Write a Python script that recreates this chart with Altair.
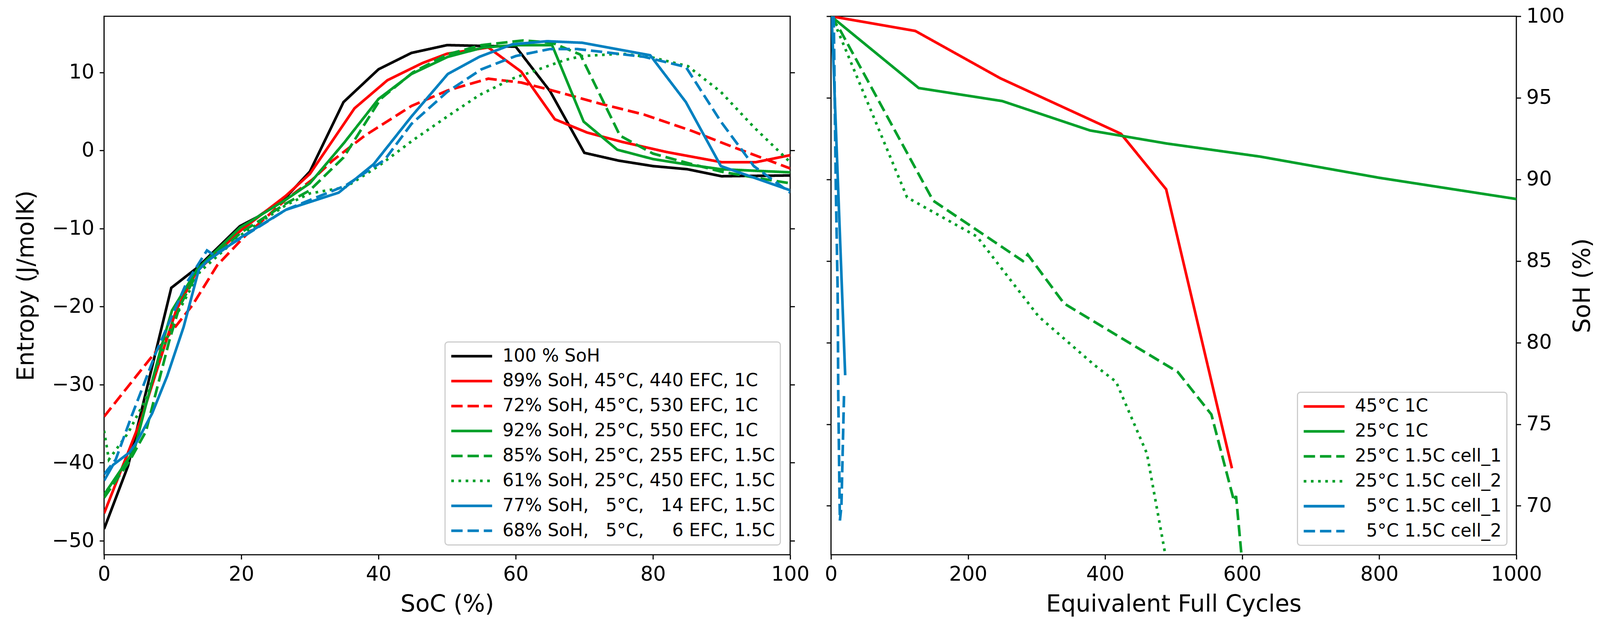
import altair as alt
import pandas as pd

NB = "\u00a0"
ZW = "\u200b"

# ---------------- Left panel: entropy vs SoC ----------------
left_names = [
    "100 % SoH",
    "89% SoH, 45°C, 440 EFC, 1C",
    "72% SoH, 45°C, 530 EFC, 1C",
    "92% SoH, 25°C, 550 EFC, 1C",
    "85% SoH, 25°C, 255 EFC, 1.5C",
    "61% SoH, 25°C, 450 EFC, 1.5C",
    "77% SoH," + NB * 3 + "5°C," + NB * 3 + "14 EFC, 1.5C",
    "68% SoH," + NB * 3 + "5°C," + NB * 5 + "6 EFC, 1.5C",
]

black_soc = [0, 3.5, 9.8, 13.6, 19.8, 22.4, 26.5, 30, 34.9, 40, 44.8, 50, 60, 65, 70, 75, 80, 85, 90, 100]
black_ent = [-48.5, -40.4, -17.6, -15.0, -9.7, -8.5, -6.0, -2.7, 6.2, 10.4, 12.5, 13.5, 13.3, 7.6, -0.3, -1.3, -2.0, -2.4, -3.3, -3.2]

red_soc = [0, 3.5, 5.5, 9.2, 10.5, 13.5, 20, 26.5, 30, 36.5, 41.3, 46.4, 50, 56, 60.8, 65.7, 70.4, 75.5, 82, 90, 95, 100]
red_ent = [-46.5, -38.7, -34.2, -24.0, -20.5, -15.5, -10.2, -5.8, -3.0, 5.4, 9.0, 11.2, 12.4, 13.2, 10.1, 4.0, 2.3, 1.1, -0.2, -1.5, -1.5, -0.6]

reddash_soc = [0, 7.7, 12.9, 16.5, 20.5, 26.5, 30.4, 33.3, 38, 44.8, 50.1, 56, 60.8, 65.3, 72.3, 78.7, 85.7, 91.5, 100]
reddash_ent = [-34.1, -25.6, -19.8, -14.7, -11.0, -6.3, -3.7, -1.3, 1.9, 5.7, 7.7, 9.2, 8.7, 7.7, 6.0, 4.6, 2.5, 0.5, -2.3]

green_soc = [0, 4.4, 6.1, 8.3, 9.9, 13.6, 19.8, 26.5, 30, 35, 40, 44.8, 50.1, 55.3, 60, 65.3, 69.9, 74.8, 80, 85, 89.9, 100]
green_ent = [-44.1, -38.4, -32.6, -25.3, -20.5, -15.2, -9.9, -6.3, -4.2, 1.0, 6.6, 9.8, 12.0, 13.2, 13.5, 13.5, 3.7, 0.1, -1.1, -1.8, -2.4, -2.8]

greendash_soc = [0, 3.7, 6.1, 9.5, 11, 14, 20, 26.5, 30, 34.9, 40.3, 45, 50, 55, 61.1, 65.3, 69.4, 75.2, 80, 85, 89.9, 95, 100]
greendash_ent = [-44.5, -39.8, -36.0, -24.4, -20.0, -15.0, -10.5, -6.8, -5.1, -0.9, 6.6, 10.0, 12.3, 13.5, 14.1, 13.8, 12.3, 1.9, -0.4, -1.6, -2.7, -3.5, -4.2]

greendot_soc = [0, 0.7, 3.5, 6, 10, 14, 20, 26.5, 30, 35.2, 40, 45, 50.1, 54.7, 59.5, 67.2, 69.7, 75.5, 80, 85.1, 89.9, 94.7, 100]
greendot_ent = [-35.9, -39.6, -36.2, -32.0, -22.0, -15.5, -10.8, -7.0, -5.5, -4.7, -2.0, 1.3, 4.4, 7.1, 9.2, 11.6, 12.1, 12.4, 11.9, 10.8, 7.5, 3.0, -1.5]

blue_soc = [0, 1.3, 3.7, 4.8, 7.0, 9.2, 11.6, 13.8, 15, 19.8, 26.5, 34.2, 39.3, 44.8, 50.1, 54.7, 59.5, 64.6, 69.7, 79.6, 84.8, 89.9, 100]
blue_ent = [-42.3, -40.3, -38.7, -37.3, -33.7, -28.9, -22.6, -15.3, -14.2, -11.2, -7.6, -5.4, -1.75, 4.35, 9.8, 12.0, 13.6, 14.0, 13.8, 12.2, 6.2, -2.0, -5.1]

bluedash_soc = [0, 1.7, 3.9, 7.7, 10, 12, 15, 16, 20, 26.5, 35.2, 40.9, 44.8, 50, 55, 60, 65, 69, 78.7, 84.8, 89.9, 94.7, 100]
bluedash_ent = [-41.5, -39.6, -34.3, -25.6, -21.0, -17.0, -12.8, -13.4, -11.2, -7.6, -4.5, -1.2, 3.4, 7.5, 10.4, 12.1, 13.0, 13.0, 12.0, 10.7, 3.7, -2.0, -5.4]

# ---------------- Right panel: SoH vs EFC ----------------
right_names = [
    "45°C 1C",
    "25°C 1C",
    "25°C 1.5C cell_1",
    "25°C 1.5C cell_2",
    ZW + NB * 2 + "5°C 1.5C cell_1",
    ZW + NB * 2 + "5°C 1.5C cell_2",
]

red45_efc = [0, 123, 247, 423, 489, 585]
red45_soh = [100, 99.1, 96.2, 92.8, 89.4, 72.3]

green25_efc = [0, 128, 250, 378, 490, 626, 800, 1000]
green25_soh = [100, 95.6, 94.8, 93.0, 92.2, 91.4, 90.1, 88.8]

c1_efc = [0, 6, 14, 149, 280, 287, 340, 506, 555, 588, 591, 600]
c1_soh = [100, 99.6, 99.1, 88.7, 85.0, 85.4, 82.4, 78.2, 75.6, 70.3, 70.6, 66.5]

c2_efc = [0, 8, 12, 111, 145, 213, 303, 385, 416, 461, 487]
c2_soh = [100, 99.3, 98.9, 88.9, 88.1, 86.5, 81.6, 78.6, 77.6, 73.2, 67.2]

b1_efc = [1, 20.7]
b1_soh = [100, 78.0]

b2_efc = [4, 7, 9.7, 10.6, 12.5, 13, 15.2, 19]
b2_soh = [100, 89.6, 83.2, 76.8, 70.4, 69.1, 70.0, 76.8]

GREEN = "#00a02a"
BLUE = "#0080c0"
RED = "#ff0000"
SOLID = [1, 0]
DASH = [30, 13]
DOT = [7, 12]

left_colors = ["black", RED, RED, GREEN, GREEN, GREEN, BLUE, BLUE]
left_dashes = [SOLID, SOLID, DASH, SOLID, DASH, DOT, SOLID, DASH]
right_colors = [RED, GREEN, GREEN, GREEN, BLUE, BLUE]
right_dashes = [SOLID, SOLID, DASH, DOT, SOLID, DASH]


def make_df(names, xs_list, ys_list, xname, yname):
    rows = []
    for n, xs, ys in zip(names, xs_list, ys_list):
        for i, (x, y) in enumerate(zip(xs, ys)):
            rows.append({"series": n, "i": i, xname: x, yname: y})
    return pd.DataFrame(rows)


left_df = make_df(
    left_names,
    [black_soc, red_soc, reddash_soc, green_soc, greendash_soc, greendot_soc, blue_soc, bluedash_soc],
    [black_ent, red_ent, reddash_ent, green_ent, greendash_ent, greendot_ent, blue_ent, bluedash_ent],
    "soc", "ent",
)
right_df = make_df(
    right_names,
    [red45_efc, green25_efc, c1_efc, c2_efc, b1_efc, b2_efc],
    [red45_soh, green25_soh, c1_soh, c2_soh, b1_soh, b2_soh],
    "efc", "soh",
)


def make_legend(offset):
    return alt.Legend(
        title=None,
        orient="bottom-right",
        offset=offset,
        symbolType="M-3,0H3",
        symbolSize=1296,
        symbolStrokeWidth=7,
        symbolOffset=33,
        labelOffset=58,
        labelFontSize=47,
        labelFont="DejaVu Sans",
        labelColor="black",
        labelLimit=3000,
        rowPadding=18,
        padding=14,
        cornerRadius=8,
        fillColor="white",
        strokeColor="#cccccc",
    )


LW = 7
left_ticks_x = [0, 20, 40, 60, 80, 100]
left_ticks_y = [-50, -40, -30, -20, -10, 0, 10]
right_ticks_x = [0, 200, 400, 600, 800, 1000]
right_ticks_y = [70, 75, 80, 85, 90, 95, 100]

lx = alt.Scale(domain=[0, 100], nice=False, zero=False)
ly = alt.Scale(domain=[-51.8, 17.2], nice=False, zero=False)
rx = alt.Scale(domain=[0, 1000], nice=False, zero=False)
ry = alt.Scale(domain=[67, 100], nice=False, zero=False)

left_legend = make_legend(26)
left_lines = alt.Chart(left_df).mark_line(strokeWidth=LW, clip=True, strokeCap="butt").encode(
    x=alt.X("soc:Q", scale=lx, axis=alt.Axis(values=left_ticks_x, format="d", title="SoC (%)", titlePadding=22)),
    y=alt.Y("ent:Q", scale=ly, axis=alt.Axis(values=left_ticks_y, title="Entropy (J/molK)", titlePadding=36)),
    color=alt.Color("series:N", scale=alt.Scale(domain=left_names, range=left_colors), legend=left_legend),
    strokeDash=alt.StrokeDash("series:N", scale=alt.Scale(domain=left_names, range=left_dashes), legend=left_legend),
    order=alt.Order("i:Q"),
)
left_ticks = alt.Chart(left_df).mark_point(opacity=0, size=1).encode(
    y=alt.Y("ent:Q", scale=ly, axis=alt.Axis(values=left_ticks_y, orient="right", labels=False, title=None)),
)
left = alt.layer(left_lines, left_ticks).resolve_axis(y="independent").properties(width=1815, height=1425)

right_legend = make_legend(25)
right_lines = alt.Chart(right_df).mark_line(strokeWidth=LW, clip=True, strokeCap="butt").encode(
    x=alt.X("efc:Q", scale=rx, axis=alt.Axis(values=right_ticks_x, format="d", title="Equivalent Full Cycles", titlePadding=22)),
    y=alt.Y("soh:Q", scale=ry, axis=alt.Axis(values=right_ticks_y, orient="right", title="SoH (%)",
                                             titleAngle=270, titlePadding=80)),
    color=alt.Color("series:N", scale=alt.Scale(domain=right_names, range=right_colors), legend=right_legend),
    strokeDash=alt.StrokeDash("series:N", scale=alt.Scale(domain=right_names, range=right_dashes), legend=right_legend),
    order=alt.Order("i:Q"),
)
right_ticks = alt.Chart(right_df).mark_point(opacity=0, size=1).encode(
    y=alt.Y("soh:Q", scale=ry, axis=alt.Axis(values=right_ticks_y, orient="left", labels=False, title=None)),
)
right = alt.layer(right_lines, right_ticks).resolve_axis(y="independent").properties(width=1813, height=1425)

chart = alt.hconcat(left, right, spacing=36).resolve_scale(color="independent", strokeDash="independent").properties(
    padding={"left": 28, "top": -20, "right": 5, "bottom": 5}
).configure_view(
    stroke="black", strokeWidth=3
).configure_axis(
    labelFont="DejaVu Sans", labelFontSize=53, labelColor="black",
    titleFont="DejaVu Sans", titleFontSize=62, titleFontWeight="normal", titleColor="black",
    tickColor="black", tickWidth=3, tickSize=12, domain=False, grid=False,
    labelPadding=14, labelFlush=False, labelOverlap=False,
).configure_legend(
    strokeWidth=3,
)

chart.save("out.html", embed_options={"renderer": "svg", "actions": False})
